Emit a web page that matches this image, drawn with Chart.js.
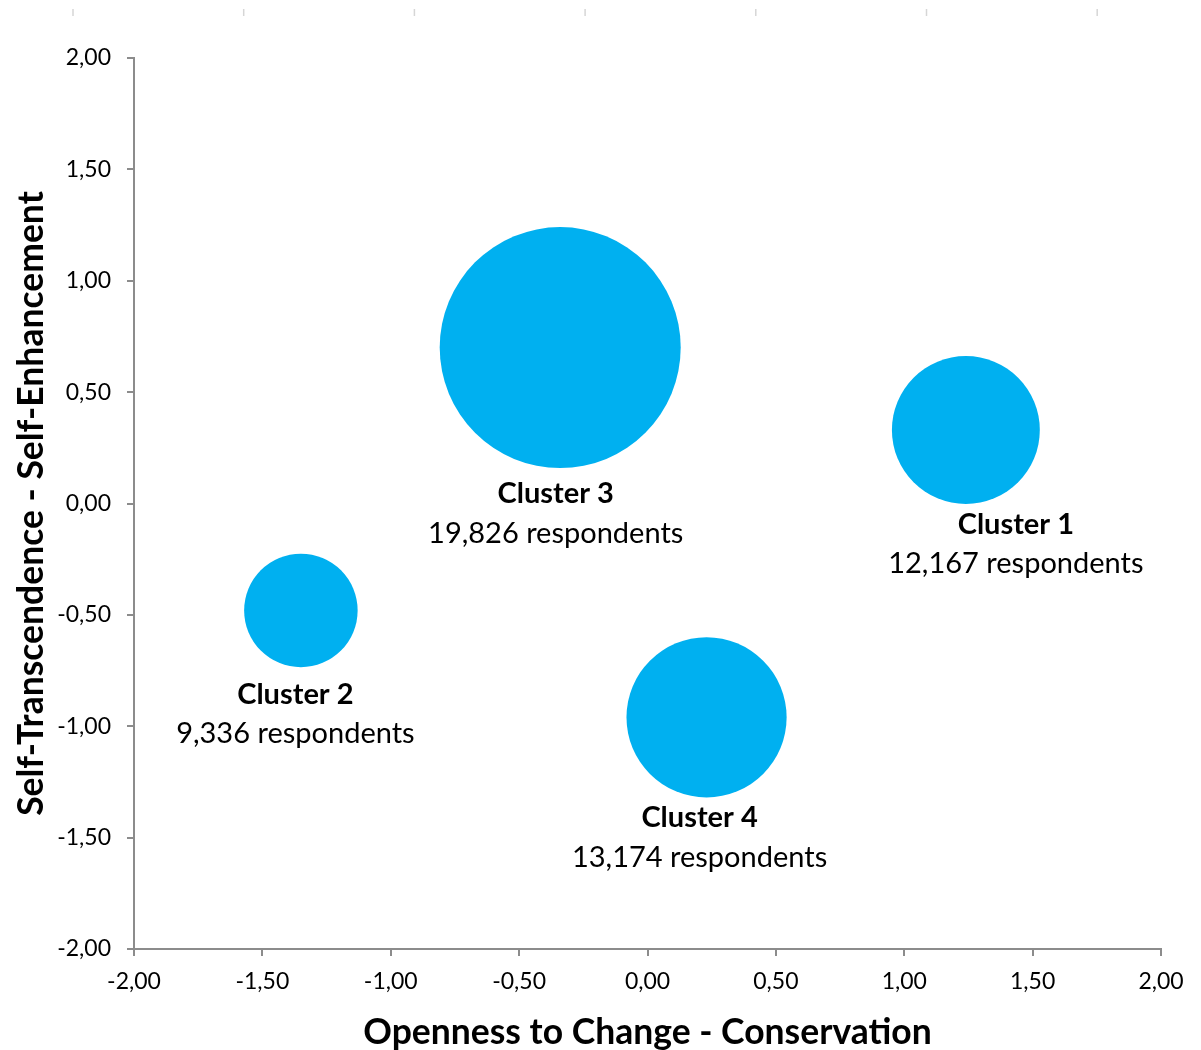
<!DOCTYPE html>
<html>
<head>
<meta charset="utf-8">
<title>Value clusters</title>
<script src="https://cdn.jsdelivr.net/npm/chart.js@4/dist/chart.umd.min.js"></script>
<style>
  html, body { margin: 0; padding: 0; background: #ffffff; }
  #wrap { position: relative; width: 1201px; height: 1050px; }
  canvas { display: block; }
</style>
</head>
<body>
<div id="wrap"><canvas id="chart" width="1201" height="1050"></canvas></div>
<script>
// Cluster centroids on the two value dimensions, and cluster sizes
const clusterNames = ['Cluster 1', 'Cluster 2', 'Cluster 3', 'Cluster 4'];
const opennessConservation = [1.24, -1.35, -0.34, 0.23];
const transcendenceEnhancement = [0.33, -0.48, 0.70, -0.96];
const respondents = [12167, 9336, 19826, 13174];

// Tick values shared by both axes
const axisTicks = [-2, -1.5, -1, -0.5, 0, 0.5, 1, 1.5, 2];

// Axis titles
const xTitle = 'Openness to Change - Conservation';
const yTitle = 'Self-Transcendence - Self-Enhancement';

// Styling
const bubbleColor = '#00B0F0';
const axisColor = '#8c8c8c';
const largestRadiusPx = 120.5;            // radius of the biggest cluster
const labelLineGap = 39.5;                 // baseline-to-baseline of the two label lines
// per-label nudges: horizontal shift and gap from bubble bottom to first baseline
const labelNudge = [
  { dx: 50, gap: 30 },
  { dx: -5.5, gap: 36.5 },
  { dx: -4.5, gap: 35 },
  { dx: -7, gap: 30 }
];

const maxRespondents = Math.max(...respondents);
const bubbleData = clusterNames.map((_, i) => ({
  x: opennessConservation[i],
  y: transcendenceEnhancement[i],
  r: respondents[i] / maxRespondents * largestRadiusPx
}));

const fmtTick = v => Number(v).toFixed(2).replace('.', ',');

// Two-line labels under each bubble: bold name, then respondent count
const clusterLabels = {
  id: 'clusterLabels',
  afterDatasetsDraw(chart) {
    const ctx = chart.ctx;
    const meta = chart.getDatasetMeta(0);
    ctx.save();
    ctx.fillStyle = '#000000';
    ctx.textAlign = 'center';
    ctx.textBaseline = 'alphabetic';
    meta.data.forEach((el, i) => {
      const r = el.options.radius;
      const n = labelNudge[i];
      const cx = el.x + n.dx;
      const base = el.y + r + n.gap;
      ctx.font = 'bold 29px Lato';
      ctx.fillText(clusterNames[i], cx, base);
      ctx.font = '29px Lato';
      ctx.fillText(respondents[i].toLocaleString('en-US') + ' respondents', cx, base + labelLineGap);
    });
    ctx.restore();
  }
};

// Faint tick row of the panel above
const topStrip = {
  id: 'topStrip',
  beforeDraw(chart) {
    const ctx = chart.ctx;
    ctx.save();
    ctx.strokeStyle = '#d6d6d6';
    ctx.lineWidth = 1.5;
    for (let k = 0; k < 7; k++) {
      const x = 73 + k * 170.7;
      ctx.beginPath();
      ctx.moveTo(x, 9);
      ctx.lineTo(x, 16);
      ctx.stroke();
    }
    ctx.restore();
  }
};

const tickFont = { family: 'Lato', size: 23 };
const titleFont = { family: 'Lato', size: 35.5, weight: 'bold', lineHeight: 1 };

new Chart(document.getElementById('chart'), {
  type: 'bubble',
  data: {
    datasets: [{
      label: 'Clusters',
      data: bubbleData,
      backgroundColor: bubbleColor,
      borderWidth: 0,
      hoverBorderWidth: 0,
      hoverRadius: 0,
      clip: false
    }]
  },
  options: {
    responsive: false,
    animation: false,
    events: [],
    layout: { autoPadding: false, padding: { top: 58, right: 40, bottom: 0, left: 0 } },
    plugins: {
      legend: { display: false },
      tooltip: { enabled: false }
    },
    scales: {
      x: {
        type: 'linear',
        min: -2,
        max: 2,
        afterBuildTicks: s => { s.ticks = axisTicks.map(v => ({ value: v })); },
        afterFit: s => { s.height = 101; },
        ticks: {
          callback: v => fmtTick(v),
          font: tickFont,
          color: '#000000',
          padding: 12,
          maxRotation: 0,
          autoSkip: false
        },
        grid: {
          drawOnChartArea: false,
          drawTicks: true,
          tickLength: 7,
          color: axisColor,
          lineWidth: 2
        },
        border: { display: true, color: axisColor, width: 2 },
        title: {
          display: true,
          text: xTitle,
          color: '#000000',
          font: titleFont,
          padding: { top: 0, bottom: 0 }
        }
      },
      y: {
        type: 'linear',
        min: -2,
        max: 2,
        afterBuildTicks: s => { s.ticks = axisTicks.map(v => ({ value: v })); },
        afterFit: s => { s.width = 134; },
        ticks: {
          callback: v => fmtTick(v),
          font: tickFont,
          color: '#000000',
          padding: 16,
          autoSkip: false
        },
        grid: {
          drawOnChartArea: false,
          drawTicks: true,
          tickLength: 7,
          color: axisColor,
          lineWidth: 2
        },
        border: { display: true, color: axisColor, width: 2 },
        title: {
          display: true,
          text: yTitle,
          color: '#000000',
          font: titleFont,
          padding: { top: 14, bottom: 0 }
        }
      }
    }
  },
  plugins: [topStrip, clusterLabels]
});
</script>
</body>
</html>
